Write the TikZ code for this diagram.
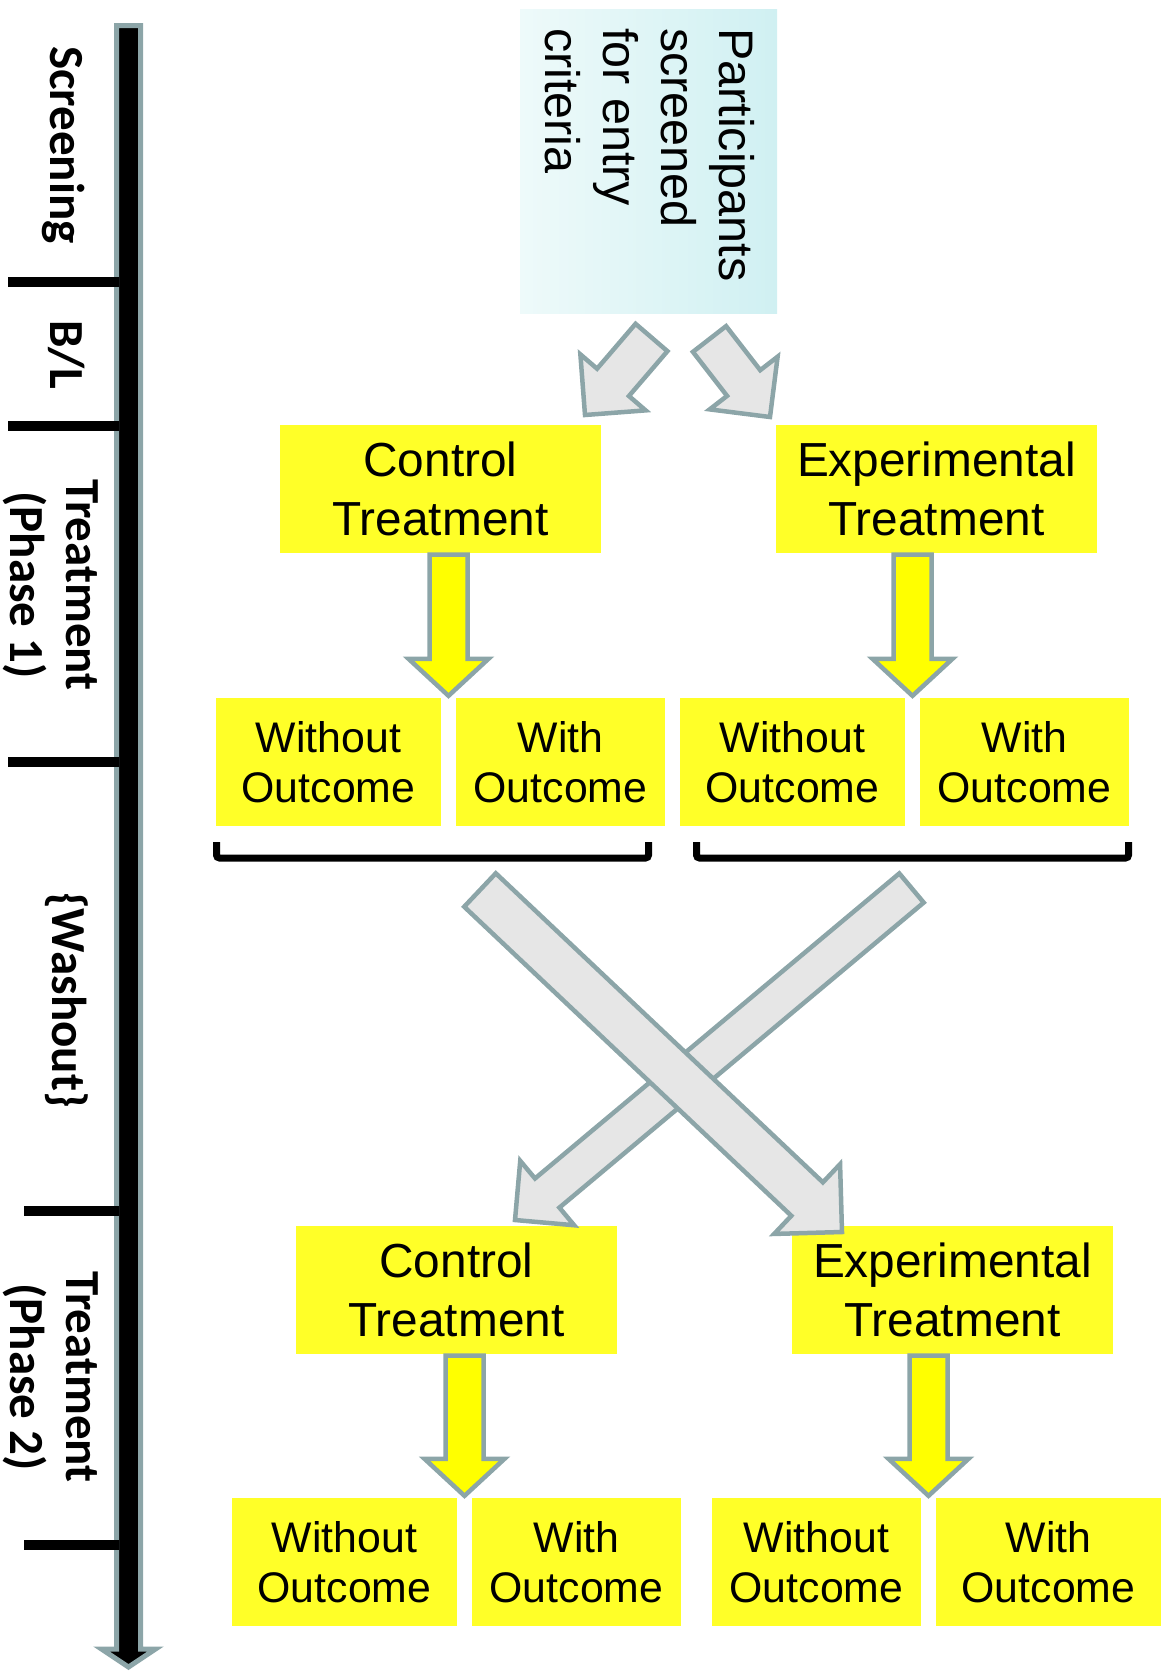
\documentclass[tikz,border=0pt]{standalone}
\usepackage{fontspec}
\setmainfont{Liberation Sans}
\newfontfamily\labelfont{Carlito}
\usetikzlibrary{calc}

\definecolor{edgegray}{RGB}{140,165,168}
\definecolor{arrowfill}{RGB}{230,230,230}
\definecolor{boxyellow}{RGB}{255,255,40}
\definecolor{arrowyellow}{RGB}{255,255,0}
\definecolor{cyanlight}{RGB}{238,250,250}
\definecolor{cyandark}{RGB}{208,240,242}

% Block arrow from #2 to #3: half shaft width #4, half head width #5, head length #6 (pt)
\newcommand\flowarrow[6][]{%
  \coordinate (fa-h) at ($(#3)!#6pt!(#2)$);
  \draw[#1] ($(#2)!#4pt!90:(#3)$) -- ($(fa-h)!#4pt!90:(#3)$) -- ($(fa-h)!#5pt!90:(#3)$)
    -- (#3) -- ($(fa-h)!#5pt!-90:(#3)$) -- ($(fa-h)!#4pt!-90:(#3)$)
    -- ($(#2)!#4pt!-90:(#3)$) -- cycle;
}

\begin{document}
\begin{tikzpicture}[x=1pt,y=1pt,
  ybig/.style={fill=boxyellow, inner sep=0pt, align=center,
    minimum width=321pt, minimum height=128pt,
    font=\fontsize{47.8}{59}\selectfont},
  ysmall/.style={fill=boxyellow, inner sep=0pt, align=center,
    minimum height=128pt, font=\fontsize{42.8}{50}\selectfont},
  phase/.style={rotate=-90, inner sep=0pt, align=center,
    font=\labelfont\bfseries\fontsize{49}{56}\selectfont},
  tick/.style={line width=10pt, black},
  bracket/.style={line width=7pt, black, rounded corners=3pt},
  grayarrow/.style={fill=arrowfill, draw=edgegray, line width=4.5pt},
  yarrow/.style={fill=arrowyellow, draw=edgegray, line width=4.5pt},
  timeline/.style={fill=black, draw=edgegray, line width=5pt}
]
\useasboundingbox (0,0) rectangle (1164,-1673);

% time axis with phase ticks
\coordinate (tl-top) at (128.5,-25.5);
\coordinate (tl-end) at (128.5,-1667);
\flowarrow[timeline]{tl-top}{tl-end}{12}{27}{18}
\draw[tick] (8,-282) -- (119,-282);
\draw[tick] (8,-426) -- (119,-426);
\draw[tick] (8,-762) -- (119,-762);
\draw[tick] (24,-1211) -- (119,-1211);
\draw[tick] (24,-1545) -- (119,-1545);

\node[phase, anchor=base] (lscr) at (50,-145) {Screening};
\node[phase, anchor=base] (lbl) at (50,-355) {B/L};
\node[phase] (lp1) at (51,-585) {Treatment\\(Phase 1)};
\node[phase, anchor=base] (lwash) at (52,-1000) {\{Washout\}};
\node[phase] (lp2) at (51,-1377) {Treatment\\(Phase 2)};

% screening box
\node[left color=cyanlight, right color=cyandark, minimum width=257pt,
  minimum height=304pt, inner sep=0pt] (screen) at (648.5,-161) {};
\node[rotate=-90, anchor=north west, align=left, inner sep=0pt,
  font=\fontsize{48.5}{58}\selectfont] (screentxt) at (754.5,-28)
  {Participants\\screened\\for entry\\criteria};

% allocation arrows
\coordinate (sa1) at (651.5,-337.5);
\coordinate (ta1) at (585,-415);
\coordinate (sa2) at (709.5,-339);
\coordinate (ta2) at (770,-417);
\flowarrow[grayarrow]{sa1}{ta1}{21}{43}{43}
\flowarrow[grayarrow]{sa2}{ta2}{21}{43}{43}

% phase 1
\node[ybig] (ctrl1) at (440.5,-489) {Control\\Treatment};
\node[ybig] (exp1) at (936.5,-489) {Experimental\\Treatment};
\node[ysmall, minimum width=225pt] (wo1) at (328.5,-762) {Without\\Outcome};
\node[ysmall, minimum width=209pt] (wi1) at (560.5,-762) {With\\Outcome};
\node[ysmall, minimum width=225pt] (wo2) at (792.5,-762) {Without\\Outcome};
\node[ysmall, minimum width=209pt] (wi2) at (1024.5,-762) {With\\Outcome};

\coordinate (g1) at ($(wo1.north east)!0.5!(wi1.north west)+(0,2)$);
\coordinate (g2) at ($(wo2.north east)!0.5!(wi2.north west)+(0,2)$);
\coordinate (s1) at ($(ctrl1.south -| g1)+(0,-1.5)$);
\coordinate (s2) at ($(exp1.south -| g2)+(0,-1.5)$);
\flowarrow[yarrow]{s1}{g1}{19}{40}{37}
\flowarrow[yarrow]{s2}{g2}{19}{40}{37}

\draw[bracket] (216.5,-842) -- (216.5,-858) -- (648.5,-858) -- (648.5,-842);
\draw[bracket] (696.5,-842) -- (696.5,-858) -- (1128.5,-858) -- (1128.5,-842);

% phase 2
\node[ybig] (ctrl2) at (456.5,-1290) {Control\\Treatment};
\node[ybig] (exp2) at (952.5,-1290) {Experimental\\Treatment};
\node[ysmall, minimum width=225pt] (wo3) at (344.5,-1562) {Without\\Outcome};
\node[ysmall, minimum width=209pt] (wi3) at (576.5,-1562) {With\\Outcome};
\node[ysmall, minimum width=209pt] (wo4) at (816.5,-1562) {Without\\Outcome};
\node[ysmall, minimum width=225pt] (wi4) at (1048.5,-1562) {With\\Outcome};

\coordinate (g3) at ($(wo3.north east)!0.5!(wi3.north west)+(0,2)$);
\coordinate (g4) at ($(wo4.north east)!0.5!(wi4.north west)+(0,2)$);
\coordinate (s3) at ($(ctrl2.south -| g3)+(0,-1.5)$);
\coordinate (s4) at ($(exp2.south -| g4)+(0,-1.5)$);
\flowarrow[yarrow]{s3}{g3}{19}{40}{37}
\flowarrow[yarrow]{s4}{g4}{19}{40}{37}

% crossover after washout
\coordinate (xs2) at (911.5,-888);
\coordinate (xt2) at (515,-1220);
\coordinate (xs1) at (480,-890);
\coordinate (xt1) at (842,-1232);
\flowarrow[grayarrow]{xs2}{xt2}{19}{42}{42}
\flowarrow[grayarrow]{xs1}{xt1}{23}{48}{48}
\end{tikzpicture}
\end{document}
